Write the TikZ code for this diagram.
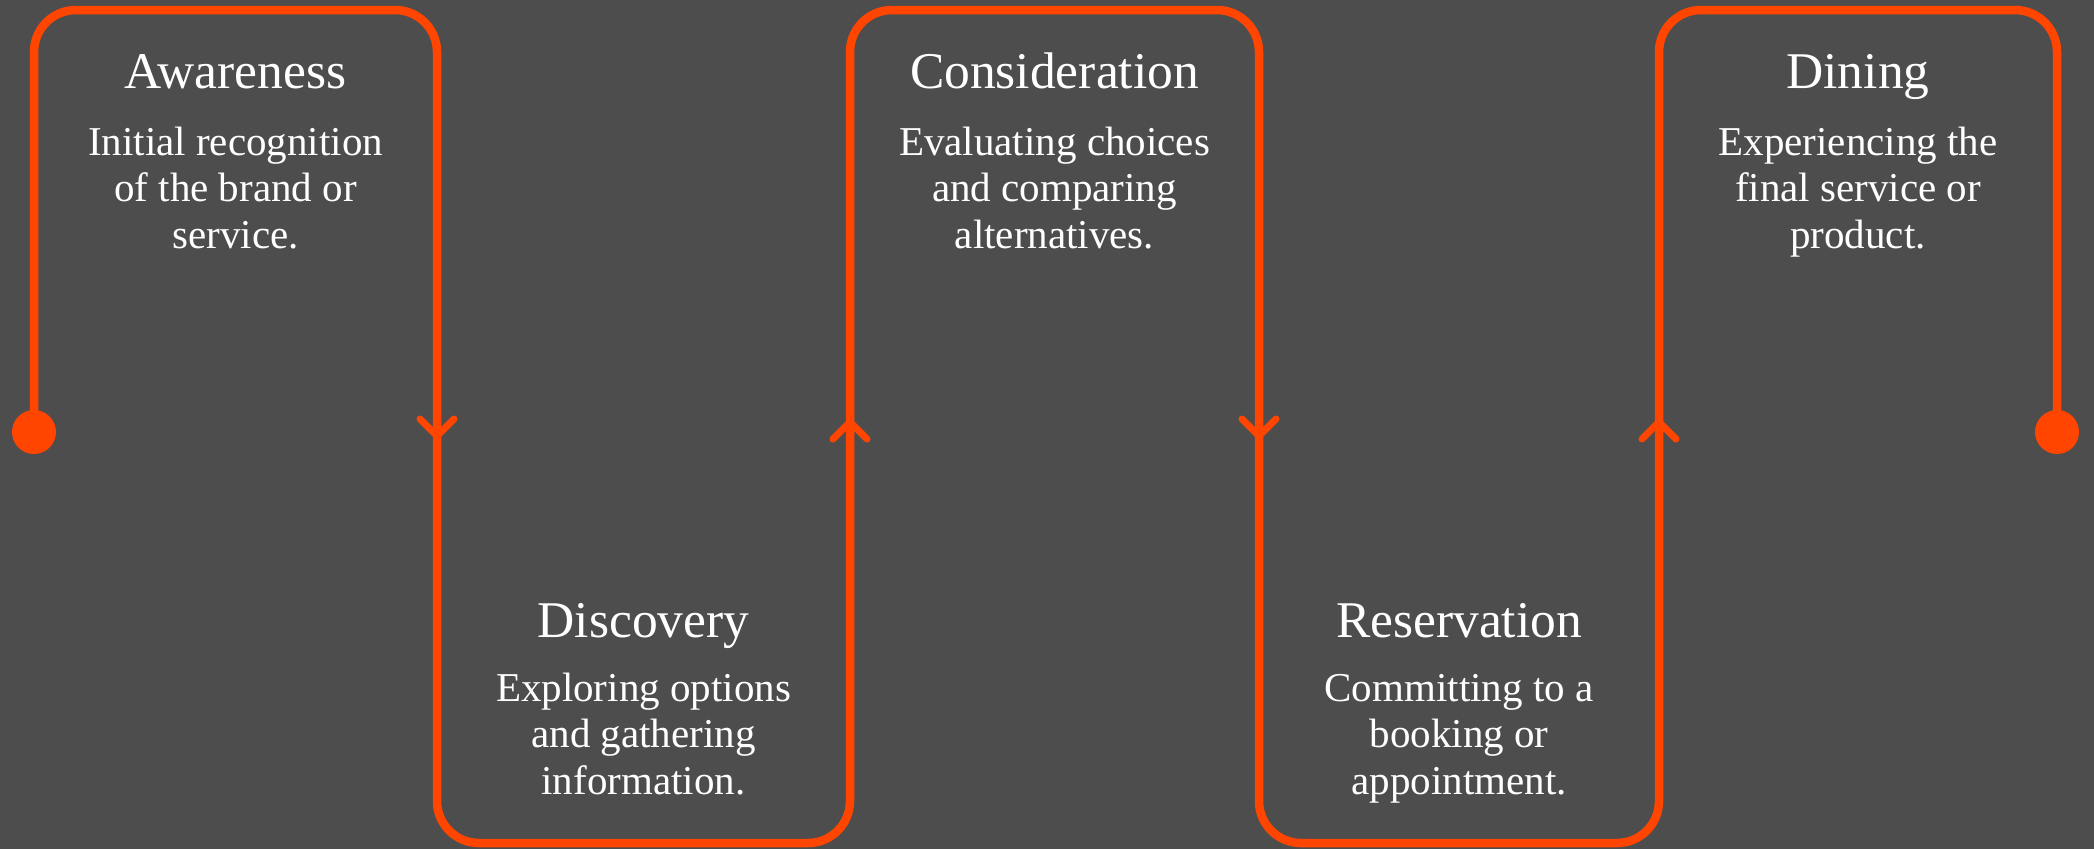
\documentclass[tikz,border=0pt]{standalone}
\usepackage{fontspec}
\setmainfont{Liberation Serif}
\definecolor{bgc}{HTML}{4D4D4D}
\definecolor{acc}{HTML}{FF4500}
\tikzset{
 flow/.style={draw=acc, line width=8.5pt, rounded corners=42pt},
 chev/.style={draw=acc, line width=7pt, line cap=round, line join=round},
 dot/.style={circle, fill=acc, minimum size=44pt, inner sep=0pt},
 ttl/.style={text=white, font=\fontsize{51.5}{60}\selectfont, anchor=base, inner sep=0pt},
 body/.style={text=white, font=\fontsize{41}{46.5}\selectfont, align=center, anchor=base, inner sep=0pt},
}
\begin{document}
\begin{tikzpicture}[x=1pt,y=-1pt]
\fill[bgc] (0,0) rectangle (2094,849);
\useasboundingbox (0,0) rectangle (2094,849);
\node[dot] (s) at (34,432) {};
\node[dot] (e) at (2057,432) {};
\coordinate (c1) at (34,10);
\coordinate (c2) at (437,10);
\coordinate (c3) at (437,843);
\coordinate (c4) at (850,843);
\coordinate (c5) at (850,10);
\coordinate (c6) at (1259,10);
\coordinate (c7) at (1259,843);
\coordinate (c8) at (1659,843);
\coordinate (c9) at (1659,10);
\coordinate (c10) at (2057,10);
\draw[flow] (s.center) -- (c1) -- (c2) -- (c3) -- (c4) -- (c5) -- (c6) -- (c7) -- (c8) -- (c9) -- (c10) -- (e.center);
% chevrons
\draw[chev] (420,419) -- (437,436) -- (454,419);
\draw[chev] (833,439) -- (850,422) -- (867,439);
\draw[chev] (1242,419) -- (1259,436) -- (1276,419);
\draw[chev] (1642,439) -- (1659,422) -- (1676,439);
% texts (body anchored at baseline of last line)
\node[ttl] (t1) at (235.5,88) {Awareness};
\node[body] (b1) at (235.5,248) {Initial recognition\\of the brand or\\service.};
\node[ttl] (t2) at (643.5,637) {Discovery};
\node[body] (b2) at (643.5,794) {Exploring options\\and gathering\\information.};
\node[ttl] (t3) at (1054.5,88) {Consideration};
\node[body] (b3) at (1054.5,248) {Evaluating choices\\and comparing\\alternatives.};
\node[ttl] (t4) at (1459,637) {Reservation};
\node[body] (b4) at (1459,794) {Committing to a\\booking or\\appointment.};
\node[ttl] (t5) at (1858,88) {Dining};
\node[body] (b5) at (1858,248) {Experiencing the\\final service or\\product.};
\end{tikzpicture}
\end{document}
